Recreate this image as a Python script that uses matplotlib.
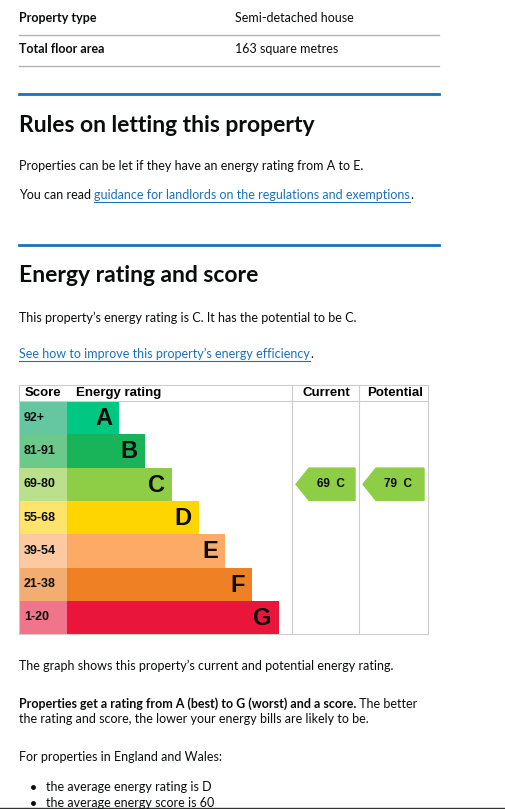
import matplotlib
matplotlib.use("Agg")
import matplotlib.pyplot as plt
from matplotlib.patches import Polygon

bands = ["A", "B", "C", "D", "E", "F", "G"]
scores = ["92+", "81-91", "69-80", "55-68", "39-54", "21-38", "1-20"]
bar_lengths = [52, 78, 105, 132, 158, 185, 212]
colors = ["#00c781", "#19b459", "#8dce46", "#ffd500", "#fcaa65", "#ef8023", "#e9153b"]
light = ["#64c7a2", "#6cc98c", "#bbe08c", "#ffe36a", "#fdc9a0", "#f3ad71", "#f0758a"]
current_score, current_band = 69, "C"
potential_score, potential_band = 79, "C"

W, H = 506, 809
fig = plt.figure(figsize=(W / 100, H / 100), dpi=100)
ax = fig.add_axes([0, 0, 1, 1])
ax.set_xlim(0, W)
ax.set_ylim(H, 0)
ax.axis("off")
renderer = fig.canvas.get_renderer()

body = ["Lato", "DejaVu Sans"]
tc = "#0b0c0c"
grey = "#b1b4b6"
blue = "#1d70b8"

def txt(x, y, s, size=9, weight="normal", color=tc, underline=False):
    t = ax.text(x, y, s, fontsize=size, fontweight=weight, color=color, va="center", ha="left", family=body)
    bb = t.get_window_extent(renderer)
    x1 = x + bb.width
    if underline:
        ax.plot([x, x1], [y + 6.5, y + 6.5], color=color, lw=0.8)
    return x1

txt(19, 18, "Property type", weight="bold")
txt(235, 18, "Semi-detached house")
ax.plot([19, 439], [35, 35], color=grey, lw=1)
txt(19, 49, "Total floor area", weight="bold")
txt(235, 49, "163 square metres")
ax.plot([19, 439], [66, 66], color=grey, lw=1)
ax.plot([19, 439], [94, 94], color=blue, lw=2)
txt(19, 125, "Rules on letting this property", size=16.5, weight="bold")
txt(19, 166, "Properties can be let if they have an energy rating from A to E.")
x = txt(19, 195, "You can read ")
x = txt(x, 195, "guidance for landlords on the regulations and exemptions", color=blue, underline=True)
txt(x, 195, ".")
ax.plot([19, 439], [245, 245], color=blue, lw=2)
txt(19, 276, "Energy rating and score", size=16.5, weight="bold")
txt(19, 318, "This property\u2019s energy rating is C. It has the potential to be C.")
x = txt(19, 354, "See how to improve this property\u2019s energy efficiency", color=blue, underline=True)
txt(x, 354, ".")

# chart
cf = "Liberation Sans"
top, hdr, rowh = 385, 401, 33.3
left, scol, right = 19, 67, 428
cur_x0, pot_x0 = 292, 359
frame = "#cccccc"
bottom = hdr + 7 * rowh
for xx in [left, cur_x0, pot_x0, right]:
    ax.plot([xx, xx], [top, bottom], color=frame, lw=0.8)
for y in [top, hdr, bottom]:
    ax.plot([left, right], [y, y], color=frame, lw=0.8)
ax.text(25, 393, "Score", fontsize=9.5, fontweight="bold", family=cf, va="center")
ax.text(76, 393, "Energy rating", fontsize=9.5, fontweight="bold", family=cf, va="center")
ax.text(326, 393, "Current", fontsize=9.5, fontweight="bold", family=cf, va="center", ha="center")
ax.text(395, 393, "Potential", fontsize=9.5, fontweight="bold", family=cf, va="center", ha="center")

ys = [hdr + rowh * (i + 0.5) for i in range(7)]
ax.barh(ys, [scol - left] * 7, left=left, height=rowh, color=light)
ax.barh(ys, bar_lengths, left=scol, height=rowh, color=colors)
for y, s, b, L in zip(ys, scores, bands, bar_lengths):
    ax.text(24, y, s, fontsize=9, fontweight="bold", family=cf, va="center", color=tc)
    ax.text(scol + L - 7, y + 1, b, fontsize=17, fontweight="bold", family=cf, va="center", ha="right", color=tc)

def arrow(x0, x1, score, band):
    i = bands.index(band)
    y = ys[i]
    h = rowh - 1
    pts = [(x0 + 4, y), (x0 + 17, y - h / 2), (x1 - 4, y - h / 2), (x1 - 4, y + h / 2), (x0 + 17, y + h / 2)]
    ax.add_patch(Polygon(pts, closed=True, color=colors[i]))
    ax.text((x0 + x1) / 2 + 5, y, f"{score}  {band}", fontsize=8.5, fontweight="bold", family=cf,
            va="center", ha="center", color=tc)

arrow(cur_x0, pot_x0, current_score, current_band)
arrow(pot_x0, right, potential_score, potential_band)

txt(19, 666, "The graph shows this property\u2019s current and potential energy rating.")
x = txt(19, 704, "Properties get a rating from A (best) to G (worst) and a score.", weight="bold")
txt(x, 704, " The better")
txt(19, 719, "the rating and score, the lower your energy bills are likely to be.")
txt(19, 757, "For properties in England and Wales:")
ax.plot(33, 787, "o", color=tc, ms=2.5)
txt(46, 787, "the average energy rating is D")
ax.plot(33, 803, "o", color=tc, ms=2.5)
txt(46, 803, "the average energy score is 60")
ax.plot([0, W], [808, 808], color="#333333", lw=1)

fig.savefig("out.png", dpi=100, facecolor="white")
